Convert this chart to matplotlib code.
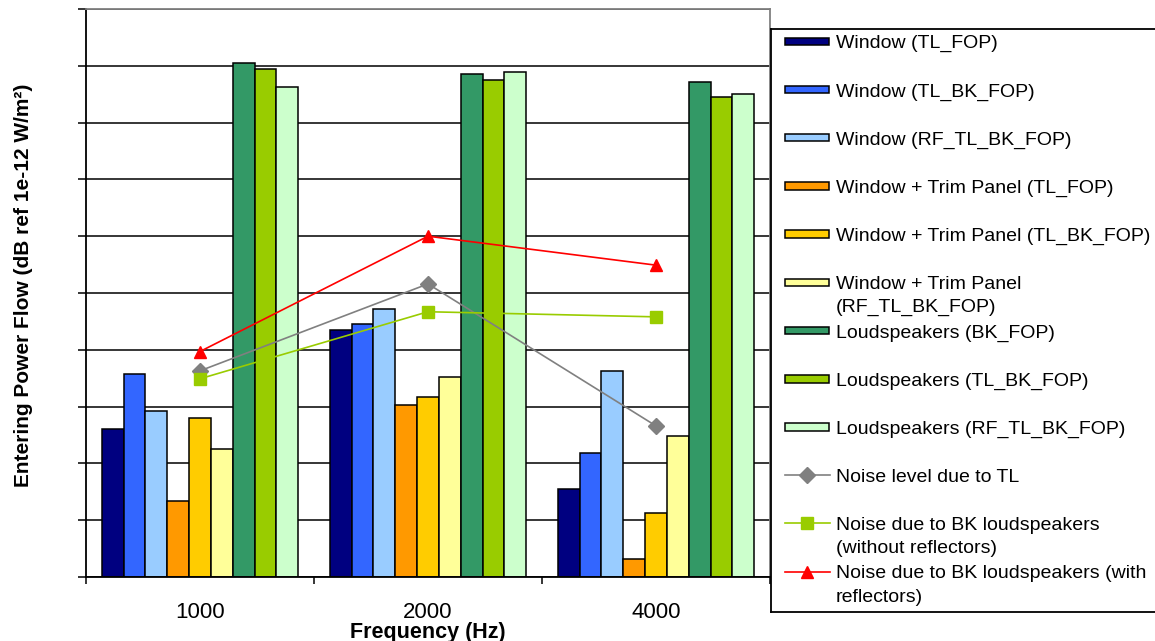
import numpy as np
import matplotlib
matplotlib.use("Agg")
import matplotlib.pyplot as plt
from matplotlib.patches import Rectangle
from matplotlib.lines import Line2D

plt.rcParams['font.family'] = ['Liberation Sans', 'DejaVu Sans']

# frequency bands
freqs = ["1000", "2000", "4000"]

# bar series (arbitrary dB-like scale 0..100)
bar_names = ["Window (TL_FOP)",
             "Window (TL_BK_FOP)",
             "Window (RF_TL_BK_FOP)",
             "Window + Trim Panel (TL_FOP)",
             "Window + Trim Panel (TL_BK_FOP)",
             "Window + Trim Panel\n(RF_TL_BK_FOP)",
             "Loudspeakers (BK_FOP)",
             "Loudspeakers (TL_BK_FOP)",
             "Loudspeakers (RF_TL_BK_FOP)"]
win_tl = [26.1, 43.5, 15.5]
win_tl_bk = [35.8, 44.6, 21.8]
win_rf_tl_bk = [29.2, 47.2, 36.3]
trim_tl = [13.4, 30.3, 3.2]
trim_tl_bk = [28.0, 31.7, 11.3]
trim_rf_tl_bk = [22.6, 35.2, 24.9]
ls_bk = [90.5, 88.6, 87.1]
ls_tl_bk = [89.4, 87.5, 84.5]
ls_rf_tl_bk = [86.3, 88.9, 85.0]
bar_colors = ["#000080", "#3366FF", "#99CCFF", "#FF9900", "#FFCC00",
              "#FFFF99", "#339966", "#99CC00", "#CCFFCC"]

# line series
line_names = ["Noise level due to TL",
              "Noise due to BK loudspeakers\n(without reflectors)",
              "Noise due to BK loudspeakers (with\nreflectors)"]
noise_tl = [36.3, 51.6, 26.6]
noise_bk = [34.9, 46.7, 45.8]
noise_bk_refl = [39.7, 60.0, 54.9]
line_colors = ["#808080", "#99CC00", "#FF0000"]
line_markers = ["D", "s", "^"]
marker_sizes = [8.5, 8, 8]

W, H = 1155, 641
fig = plt.figure(figsize=(W / 100, H / 100), dpi=100)
ax = fig.add_axes([86 / W, 1 - 577 / H, (770 - 86) / W, (577 - 9) / H])

x = np.arange(len(freqs))
bw = 0.0958
series = [win_tl, win_tl_bk, win_rf_tl_bk, trim_tl, trim_tl_bk,
          trim_rf_tl_bk, ls_bk, ls_tl_bk, ls_rf_tl_bk]
for i, vals in enumerate(series):
    ax.bar(x + (i - 4) * bw, vals, bw, color=bar_colors[i],
           edgecolor="black", linewidth=1.1, zorder=2)

for vals, c, m, ms in zip([noise_tl, noise_bk, noise_bk_refl],
                          line_colors, line_markers, marker_sizes):
    ax.plot(x, vals, color=c, marker=m, markersize=ms, linewidth=1.2,
            markeredgecolor=c, zorder=3)

ax.set_xlim(-0.5, 2.5)
ax.set_ylim(0, 100)
ax.set_yticks(np.arange(0, 101, 10))
ax.set_yticklabels([])
ax.tick_params(axis="y", length=6, width=1.1, direction="out", color="black")
ax.yaxis.grid(True, color="black", linewidth=1.1)
ax.set_axisbelow(True)

ax.set_xticks([-0.5, 0.5, 1.5, 2.5])
ax.set_xticklabels([])
ax.tick_params(axis="x", which="major", length=5, width=1.1)
ax.set_xticks(x, minor=True)
ax.set_xticklabels(freqs, minor=True, fontsize=16)
ax.tick_params(axis="x", which="minor", length=0, pad=18)

for s in ["left", "bottom"]:
    ax.spines[s].set_color("black")
    ax.spines[s].set_linewidth(1.3)
for s in ["top", "right"]:
    ax.spines[s].set_color("#808080")
    ax.spines[s].set_linewidth(1.3)

fig.text(428 / W, 1 - 638 / H, "Frequency (Hz)", ha="center", va="baseline",
         fontsize=15.5, fontweight="bold")
fig.text(24 / W, 1 - 285 / H, "Entering Power Flow (dB ref 1e-12 W/m²)",
         ha="center", va="center", rotation=90, fontsize=15, fontweight="bold")

# legend box drawn in its own axes, pixel-like coordinates
lx0, lx1, ly0, ly1 = 771, 1170, 29, 612
lax = fig.add_axes([lx0 / W, 1 - ly1 / H, (lx1 - lx0) / W, (ly1 - ly0) / H])
lax.set_xlim(lx0, lx1)
lax.set_ylim(ly1, ly0)
lax.set_xticks([])
lax.set_yticks([])
for s in lax.spines.values():
    s.set_color("black")
    s.set_linewidth(1.3)

slot = 48.2
labels = bar_names + line_names
for i, lab in enumerate(labels):
    yc = 41.3 + i * slot
    if i < 9:
        lax.add_patch(Rectangle((785, yc - 3.8), 44, 7.6, facecolor=bar_colors[i],
                                edgecolor="black", linewidth=1.1))
    else:
        j = i - 9
        lax.add_line(Line2D([785, 830], [yc, yc], color=line_colors[j], linewidth=1.2))
        lax.add_line(Line2D([807.5], [yc], marker=line_markers[j],
                            markersize=marker_sizes[j], color=line_colors[j],
                            linestyle="none"))
    parts = lab.split("\n")
    for k, p in enumerate(parts):
        lax.text(836, yc + 7 + k * 23, p, ha="left", va="baseline", fontsize=14)

fig.savefig("out.png", dpi=100)
